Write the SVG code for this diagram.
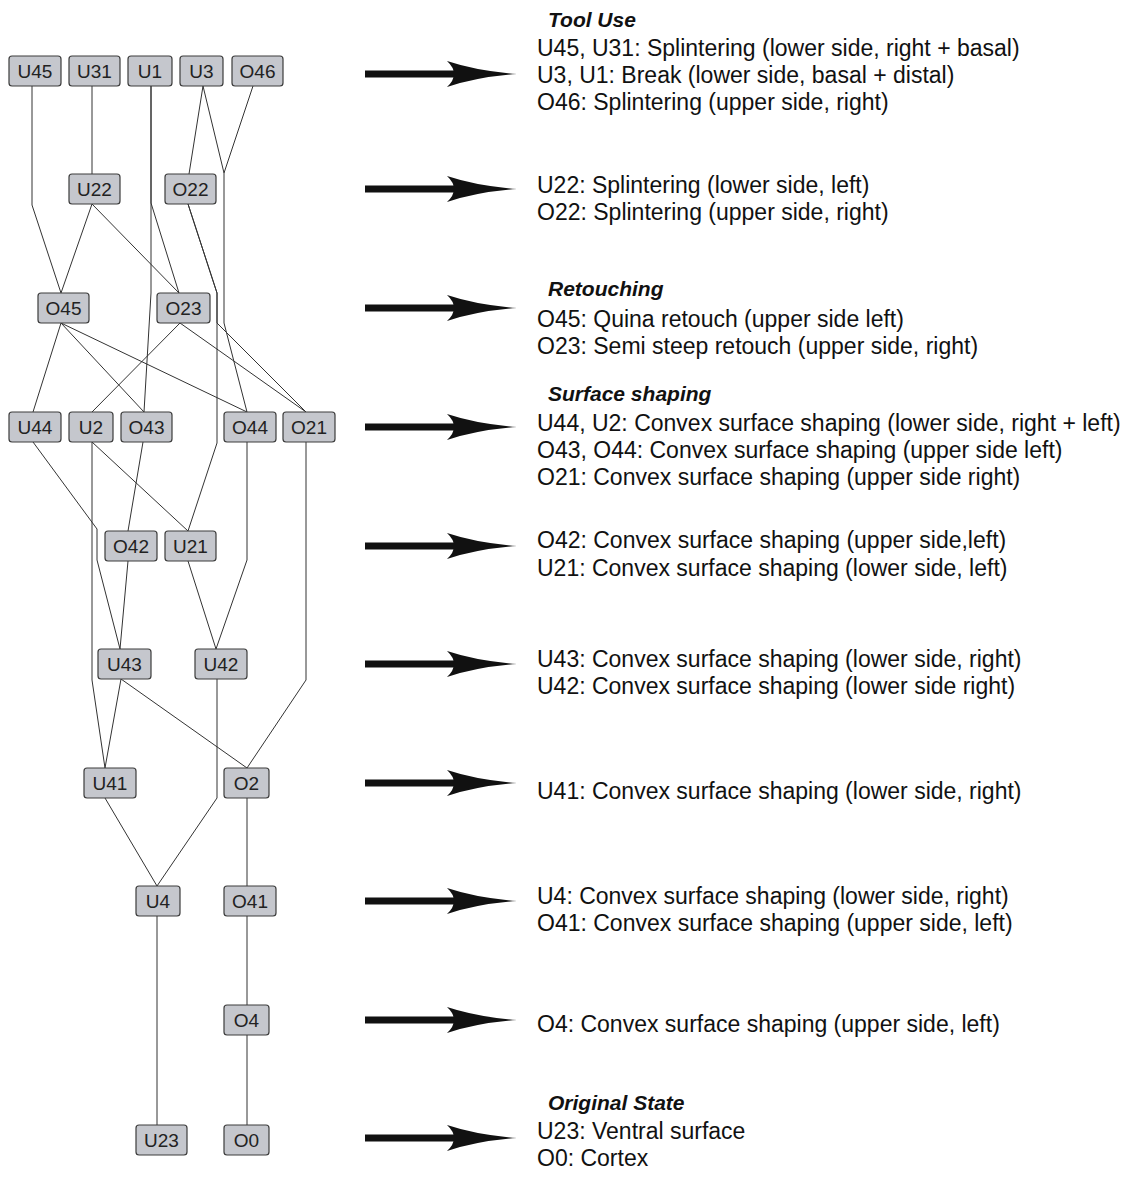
<svg xmlns="http://www.w3.org/2000/svg" width="1131" height="1187" viewBox="0 0 1131 1187">
<style>
.n rect{fill:#c5c7cd;stroke:#3c3c3c;stroke-width:1.2}
.n text{font-family:"Liberation Sans",Arial,sans-serif;font-size:19px;fill:#222;text-anchor:middle}
.e polyline{fill:none;stroke:#333;stroke-width:1}
.t{font-family:"Liberation Sans",Arial,sans-serif;font-size:23px;fill:#111}
.h{font-weight:bold;font-style:italic;font-size:21px}
</style>
<defs>
<path id="arr" d="M0,-3.5 H92 V3.5 H0 Z M82,-13 Q112,-3 152,0 Q112,3 82,13 Q96,0 82,-13 Z" fill="#111"/>
</defs>
<rect width="1131" height="1187" fill="#fff"/>
<g id="connectors" class="e">
<polyline points="32,86 32,205 61,293"/>
<polyline points="92,86 92,174"/>
<polyline points="151,86 151,203 179,293"/>
<polyline points="151,86 151,293 144,412"/>
<polyline points="203,86 189,174"/>
<polyline points="203,86 224,173 224,323 247,412"/>
<polyline points="253,86 224,173"/>
<polyline points="92,204 61,293"/>
<polyline points="92,204 179,293"/>
<polyline points="188,204 217,293 217,443 188,531"/>
<polyline points="188,204 217,293 217,323 306,412"/>
<polyline points="61,323 33,412"/>
<polyline points="61,323 144,412"/>
<polyline points="61,323 247,412"/>
<polyline points="180,323 92,412"/>
<polyline points="180,323 306,412"/>
<polyline points="33,442 97,529 97,560 120,649"/>
<polyline points="92,442 92,680 105,768"/>
<polyline points="92,442 188,531"/>
<polyline points="143,442 128,531"/>
<polyline points="247,442 247,560 216,649"/>
<polyline points="306,442 306,680 247,768"/>
<polyline points="128,561 120,649"/>
<polyline points="188,561 216,649"/>
<polyline points="121,679 105,768"/>
<polyline points="121,679 247,768"/>
<polyline points="217,679 217,798 157,886"/>
<polyline points="105,798 157,886"/>
<polyline points="247,798 247,886"/>
<polyline points="247,916 247,1005"/>
<polyline points="247,1035 247,1125"/>
<polyline points="157,916 157,1125"/>
</g>
<g id="U45" class="n"><rect x="9" y="56" width="52" height="30" rx="3"/><text x="35" y="78">U45</text></g>
<g id="U31" class="n"><rect x="69" y="56" width="51" height="30" rx="3"/><text x="94.5" y="78">U31</text></g>
<g id="U1" class="n"><rect x="128" y="56" width="44" height="30" rx="3"/><text x="150" y="78">U1</text></g>
<g id="U3" class="n"><rect x="180" y="56" width="43" height="30" rx="3"/><text x="201.5" y="78">U3</text></g>
<g id="O46" class="n"><rect x="232" y="56" width="51" height="30" rx="3"/><text x="257.5" y="78">O46</text></g>
<g id="U22" class="n"><rect x="69" y="174" width="51" height="30" rx="3"/><text x="94.5" y="196">U22</text></g>
<g id="O22" class="n"><rect x="165" y="174" width="51" height="30" rx="3"/><text x="190.5" y="196">O22</text></g>
<g id="O45" class="n"><rect x="38" y="293" width="51" height="30" rx="3"/><text x="63.5" y="315">O45</text></g>
<g id="O23" class="n"><rect x="157" y="293" width="53" height="30" rx="3"/><text x="183.5" y="315">O23</text></g>
<g id="U44" class="n"><rect x="9" y="412" width="52" height="30" rx="3"/><text x="35" y="434">U44</text></g>
<g id="U2" class="n"><rect x="69" y="412" width="44" height="30" rx="3"/><text x="91" y="434">U2</text></g>
<g id="O43" class="n"><rect x="121" y="412" width="51" height="30" rx="3"/><text x="146.5" y="434">O43</text></g>
<g id="O44" class="n"><rect x="224" y="412" width="52" height="30" rx="3"/><text x="250" y="434">O44</text></g>
<g id="O21" class="n"><rect x="283" y="412" width="52" height="30" rx="3"/><text x="309" y="434">O21</text></g>
<g id="O42" class="n"><rect x="105" y="531" width="52" height="30" rx="3"/><text x="131" y="553">O42</text></g>
<g id="U21" class="n"><rect x="165" y="531" width="51" height="30" rx="3"/><text x="190.5" y="553">U21</text></g>
<g id="U43" class="n"><rect x="98" y="649" width="53" height="30" rx="3"/><text x="124.5" y="671">U43</text></g>
<g id="U42" class="n"><rect x="195" y="649" width="52" height="30" rx="3"/><text x="221" y="671">U42</text></g>
<g id="U41" class="n"><rect x="84" y="768" width="52" height="30" rx="3"/><text x="110" y="790">U41</text></g>
<g id="O2" class="n"><rect x="224" y="768" width="45" height="30" rx="3"/><text x="246.5" y="790">O2</text></g>
<g id="U4" class="n"><rect x="136" y="886" width="44" height="30" rx="3"/><text x="158" y="908">U4</text></g>
<g id="O41" class="n"><rect x="224" y="886" width="52" height="30" rx="3"/><text x="250" y="908">O41</text></g>
<g id="O4" class="n"><rect x="224" y="1005" width="45" height="30" rx="3"/><text x="246.5" y="1027">O4</text></g>
<g id="U23" class="n"><rect x="136" y="1125" width="51" height="30" rx="3"/><text x="161.5" y="1147">U23</text></g>
<g id="O0" class="n"><rect x="224" y="1125" width="45" height="30" rx="3"/><text x="246.5" y="1147">O0</text></g>
<g id="arrows">
<use href="#arr" transform="translate(365,74)"/>
<use href="#arr" transform="translate(365,189)"/>
<use href="#arr" transform="translate(365,308)"/>
<use href="#arr" transform="translate(365,427)"/>
<use href="#arr" transform="translate(365,546)"/>
<use href="#arr" transform="translate(365,664)"/>
<use href="#arr" transform="translate(365,783)"/>
<use href="#arr" transform="translate(365,901)"/>
<use href="#arr" transform="translate(365,1020)"/>
<use href="#arr" transform="translate(365,1138)"/>
</g>
<g id="legend" class="t">
<text><tspan x="548" y="27" class="h">Tool Use</tspan><tspan x="537" y="56">U45, U31: Splintering (lower side, right + basal)</tspan><tspan x="537" y="83">U3, U1: Break (lower side, basal + distal)</tspan><tspan x="537" y="110">O46: Splintering (upper side, right)</tspan></text>
<text><tspan x="537" y="193">U22: Splintering (lower side, left)</tspan><tspan x="537" y="220">O22: Splintering (upper side, right)</tspan></text>
<text><tspan x="548" y="296" class="h">Retouching</tspan><tspan x="537" y="327">O45: Quina retouch (upper side left)</tspan><tspan x="537" y="354">O23: Semi steep retouch (upper side, right)</tspan></text>
<text><tspan x="548" y="401" class="h">Surface shaping</tspan><tspan x="537" y="431">U44, U2: Convex surface shaping (lower side, right + left)</tspan><tspan x="537" y="458">O43, O44: Convex surface shaping (upper side left)</tspan><tspan x="537" y="485">O21: Convex surface shaping (upper side right)</tspan></text>
<text><tspan x="537" y="548">O42: Convex surface shaping (upper side,left)</tspan><tspan x="537" y="576">U21: Convex surface shaping (lower side, left)</tspan></text>
<text><tspan x="537" y="667">U43: Convex surface shaping (lower side, right)</tspan><tspan x="537" y="694">U42: Convex surface shaping (lower side right)</tspan></text>
<text><tspan x="537" y="799">U41: Convex surface shaping (lower side, right)</tspan></text>
<text><tspan x="537" y="904">U4: Convex surface shaping (lower side, right)</tspan><tspan x="537" y="931">O41: Convex surface shaping (upper side, left)</tspan></text>
<text><tspan x="537" y="1032">O4: Convex surface shaping (upper side, left)</tspan></text>
<text><tspan x="548" y="1110" class="h">Original State</tspan><tspan x="537" y="1139">U23: Ventral surface</tspan><tspan x="537" y="1166">O0: Cortex</tspan></text>
</g>
</svg>
